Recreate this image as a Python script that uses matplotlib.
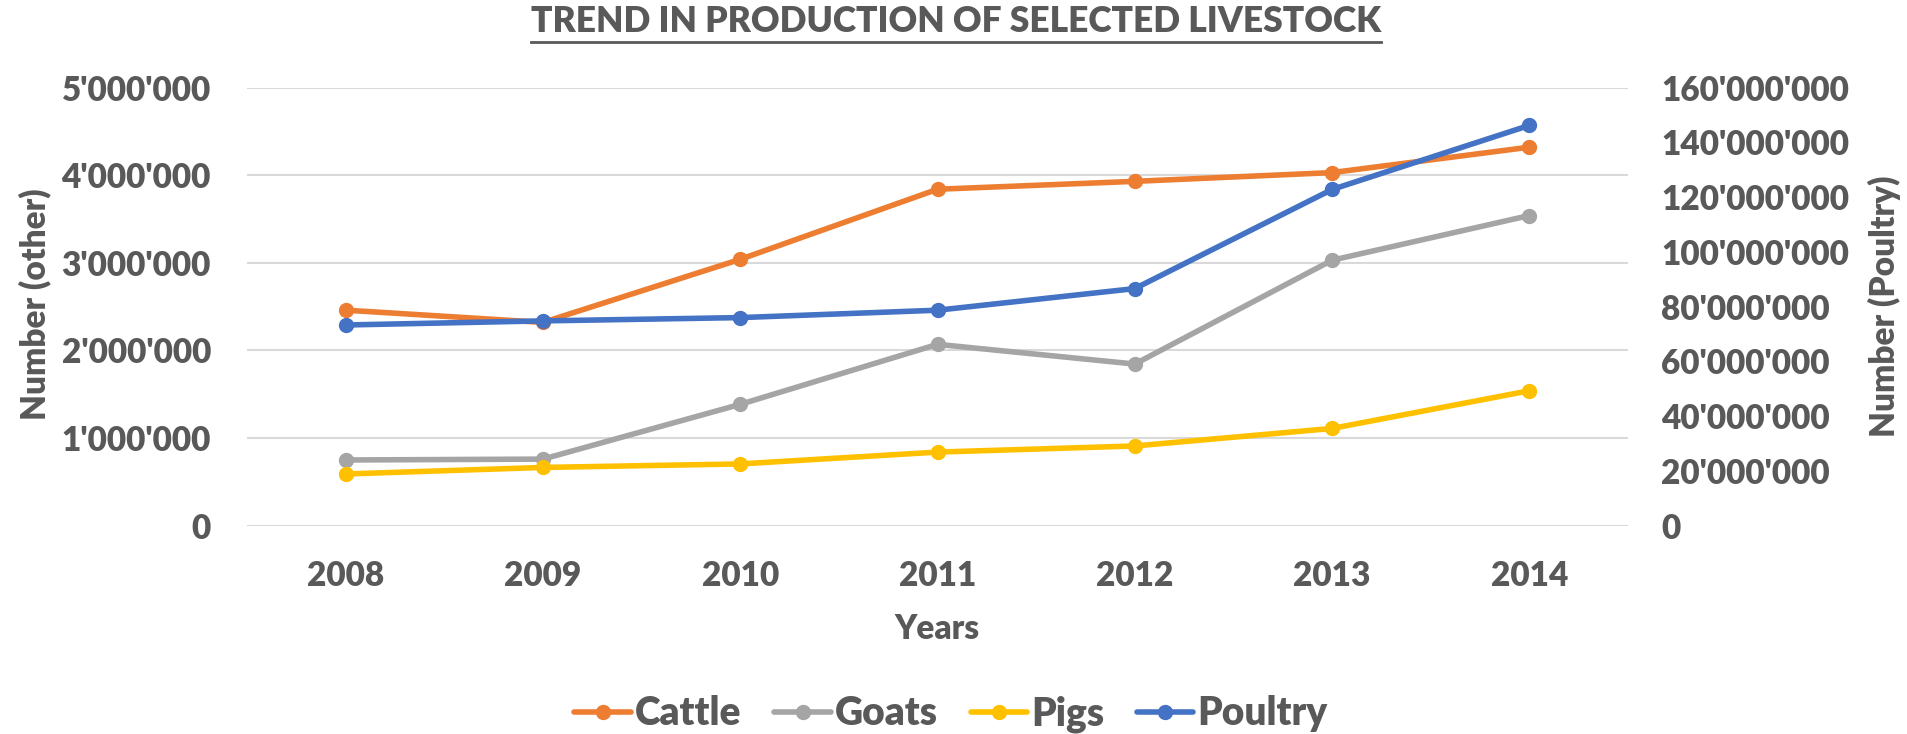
import matplotlib
matplotlib.use("Agg")
import matplotlib.pyplot as plt
from matplotlib.lines import Line2D
from matplotlib.ticker import FuncFormatter, MultipleLocator

years = ["2008", "2009", "2010", "2011", "2012", "2013", "2014"]
cattle = [2460000, 2320000, 3040000, 3840000, 3930000, 4030000, 4320000]
goats = [750000, 760000, 1385000, 2070000, 1845000, 3030000, 3540000]
pigs = [590000, 665000, 705000, 840000, 910000, 1110000, 1540000]
poultry = [73300000, 74800000, 76000000, 78700000, 86600000, 122800000, 146200000]

GREY = "#595959"
plt.rcParams["font.family"] = ["Lato", "DejaVu Sans"]
plt.rcParams["font.weight"] = "heavy"

W, H = 1908, 734
fig = plt.figure(figsize=(W / 100, H / 100), dpi=100)
L, R, T, B = 247, 1628, 87.6, 525.7
ax = fig.add_axes([L / W, 1 - B / H, (R - L) / W, (B - T) / H])
ax2 = ax.twinx()

x = list(range(len(years)))
style = dict(lw=4, marker="o", ms=10, solid_capstyle="round")
ax.plot(x, cattle, color="#ED7D31", label="Cattle", **style)
ax.plot(x, goats, color="#A5A5A5", label="Goats", **style)
ax.plot(x, pigs, color="#FFC000", label="Pigs", **style)
ax2.plot(x, poultry, color="#4472C4", label="Poultry", **style)

fmt = FuncFormatter(lambda v, p: f"{int(v):,}".replace(",", "'"))
ax.set_xlim(-0.5, len(years) - 0.5)
ax.set_ylim(0, 5e6)
ax2.set_ylim(0, 160e6)
ax.yaxis.set_major_locator(MultipleLocator(1e6))
ax2.yaxis.set_major_locator(MultipleLocator(20e6))
ax.yaxis.set_major_formatter(fmt)
ax2.yaxis.set_major_formatter(fmt)
ax.set_xticks(x)
ax.set_xticklabels(years)

ax.yaxis.grid(True, color="#D9D9D9", lw=1.5)
ax.set_axisbelow(True)
for a in (ax, ax2):
    for s in a.spines.values():
        s.set_visible(False)
    a.tick_params(length=0, labelsize=24, labelcolor=GREY)
ax.tick_params(axis="y", pad=26)
ax.tick_params(axis="x", pad=25)
ax2.tick_params(axis="y", pad=24)

fig.text(35 / W, 1 - 304 / H, "Number (other)", rotation=90, ha="center",
         va="center", fontsize=24, color=GREY)
fig.text(1884 / W, 1 - 306 / H, "Number (Poultry)", rotation=90, ha="center",
         va="center", fontsize=24, color=GREY)
fig.text((L + R) / 2 / W, 1 - 629 / H, "Years", ha="center", va="center",
         fontsize=24, color=GREY)

title = fig.text(956 / W, 1 - 22 / H, "TREND IN PRODUCTION OF SELECTED LIVESTOCK",
                 ha="center", va="center", fontsize=25.5, color=GREY)

h1, l1 = ax.get_legend_handles_labels()
h2, l2 = ax2.get_legend_handles_labels()
fig.legend(h1 + h2, l1 + l2, loc="center", bbox_to_anchor=(951 / W, 1 - 714 / H),
           ncol=4, frameon=False, fontsize=28, labelcolor=GREY,
           handlelength=1.45, handletextpad=0.1, columnspacing=0.85)

# underline the title
fig.canvas.draw()
bb = title.get_window_extent()
uy = (bb.y0 - 3) / H
fig.add_artist(Line2D([bb.x0 / W, bb.x1 / W], [uy, uy], color=GREY, lw=2))

fig.savefig("out.png", dpi=100)
